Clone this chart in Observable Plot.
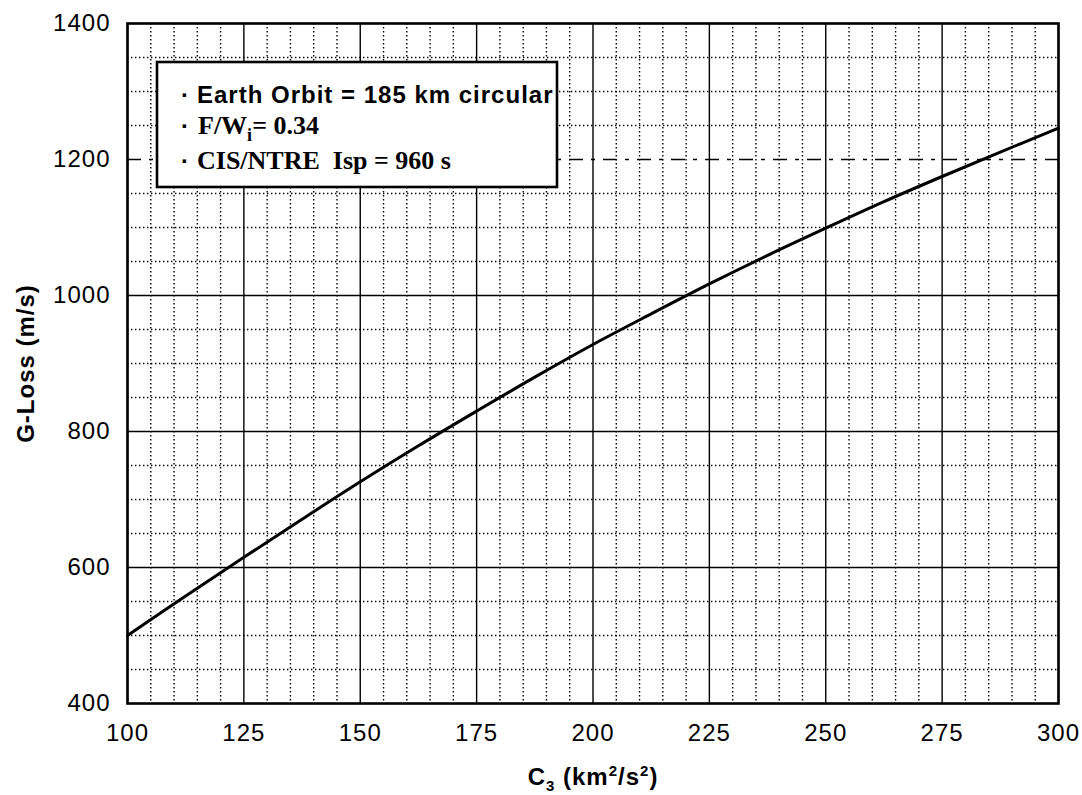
<!DOCTYPE html>
<html>
<head>
<meta charset="utf-8">
<script src="https://cdn.jsdelivr.net/npm/d3@7"></script>
<script src="https://cdn.jsdelivr.net/npm/@observablehq/plot@0.6"></script>
<style>
  html, body { margin: 0; padding: 0; background: #fff; }
  #chart { position: relative; width: 1082px; height: 795px; }
  #chart svg text { letter-spacing: 1px; }
</style>
</head>
<body>
<div id="chart"></div>
<script>
// ---- Data ----
const c3 = [100, 112.5, 125, 137.5, 150, 162.5, 175, 187.5, 200, 212.5, 225, 237.5, 250, 262.5, 275, 287.5, 300];
const gLoss = [500, 558, 615, 671, 726, 779, 830, 880, 928, 973, 1017, 1059, 1099, 1138, 1175, 1211, 1246];

const xTicks = [100, 125, 150, 175, 200, 225, 250, 275, 300];
const yTicks = [400, 600, 800, 1000, 1200, 1400];
const ySolid = [600, 800, 1000];
const yDashed = [1200];
const xMinor = d3.range(100, 301, 5).filter(v => v % 25 !== 0);
const yMinor = d3.range(400, 1401, 50).filter(v => v % 200 !== 0);

const noteLine1 = "Earth Orbit = 185 km circular";
const noteLine2 = ["F/W", "i", "= 0.34"];
const noteLine3 = "CIS/NTRE  Isp = 960 s";
const xTitle = "C3 (km2/s2)";
const yTitle = "G-Loss (m/s)";

const data = c3.map((x, i) => ({x, y: gLoss[i]}));

const font = "'Liberation Sans', Arial, Helvetica, sans-serif";
const serif = "'Liberation Serif', 'Times New Roman', Times, serif";
const dotted = {stroke: "#000", strokeWidth: 1.4, strokeDasharray: "1.4,2.6"};

const chart = Plot.plot({
  width: 1082,
  height: 795,
  marginLeft: 127,
  marginRight: 24,
  marginTop: 23,
  marginBottom: 92,
  x: {domain: [100, 300]},
  y: {domain: [400, 1400]},
  style: {fontFamily: font, background: "#fff", color: "#000"},
  marks: [
    Plot.ruleX(xMinor, dotted),
    Plot.ruleY(yMinor, dotted),
    Plot.ruleX(xTicks, {stroke: "#000", strokeWidth: 1.4}),
    Plot.ruleY(ySolid, {stroke: "#000", strokeWidth: 1.5}),
    Plot.ruleY(yDashed, {stroke: "#000", strokeWidth: 1.4, strokeDasharray: "14,8,4,8"}),
    Plot.line(data, {x: "x", y: "y", curve: "catmull-rom", stroke: "#000", strokeWidth: 3}),
    Plot.frame({stroke: "#000", strokeWidth: 2.6}),
    Plot.axisX(xTicks, {tickSize: 0, tickPadding: 20, fontSize: 24, label: null, tickFormat: d => String(d)}),
    Plot.axisY(yTicks, {tickSize: 0, tickPadding: 17, fontSize: 24, label: null, tickFormat: d => String(d)}),
    Plot.text([yTitle], {frameAnchor: "left", rotate: -90, dx: -101, fontSize: 24, fontWeight: "bold", lineAnchor: "middle", textAnchor: "middle"}),
    Plot.text([xTitle], {frameAnchor: "bottom", dy: 74, fontSize: 24, fontWeight: "bold", lineAnchor: "middle", textAnchor: "middle"})
  ]
});

document.getElementById("chart").appendChild(chart);

const svg = d3.select(chart);

// Rich formatting of the x-axis title (subscript / superscripts)
svg.selectAll("text").filter(function() { return this.textContent === xTitle; }).each(function() {
  const t = d3.select(this);
  t.text(null);
  t.append("tspan").text("C");
  t.append("tspan").attr("font-size", 15).attr("dy", 6).text("3");
  t.append("tspan").attr("dy", -6).text(" (km");
  t.append("tspan").attr("font-size", 15).attr("dy", -9).text("2");
  t.append("tspan").attr("dy", 9).text("/s");
  t.append("tspan").attr("font-size", 15).attr("dy", -9).text("2");
  t.append("tspan").attr("dy", 9).text(")");
});

// Annotation box
const g = svg.append("g").attr("class", "note").attr("text-anchor", "start");
g.append("rect").attr("x", 157).attr("y", 62).attr("width", 400).attr("height", 125)
  .attr("fill", "#fff").attr("stroke", "#000").attr("stroke-width", 2.6);
[103, 134, 169].forEach(b => {
  g.append("text").attr("x", 181).attr("y", b).attr("text-anchor", "start").attr("font-family", font)
    .attr("font-size", 24).attr("font-weight", "bold").text("·");
});
g.append("text").attr("x", 197).attr("y", 103).attr("text-anchor", "start").attr("font-family", font)
  .attr("font-size", 24).attr("font-weight", "bold").style("letter-spacing", "1px").text(noteLine1);
const l2 = g.append("text").attr("x", 198).attr("y", 134).attr("text-anchor", "start").attr("font-family", serif)
  .attr("font-size", 26).attr("font-weight", "bold").style("letter-spacing", "0px");
l2.append("tspan").text(noteLine2[0]);
l2.append("tspan").attr("font-size", 18).attr("dy", 7).text(noteLine2[1]);
l2.append("tspan").attr("dy", -7).text(noteLine2[2]);
g.append("text").attr("x", 197).attr("y", 169).attr("text-anchor", "start").attr("font-family", serif)
  .attr("font-size", 26).attr("font-weight", "bold").style("letter-spacing", "0px").style("white-space", "pre")
  .attr("xml:space", "preserve").text(noteLine3);
</script>
</body>
</html>
